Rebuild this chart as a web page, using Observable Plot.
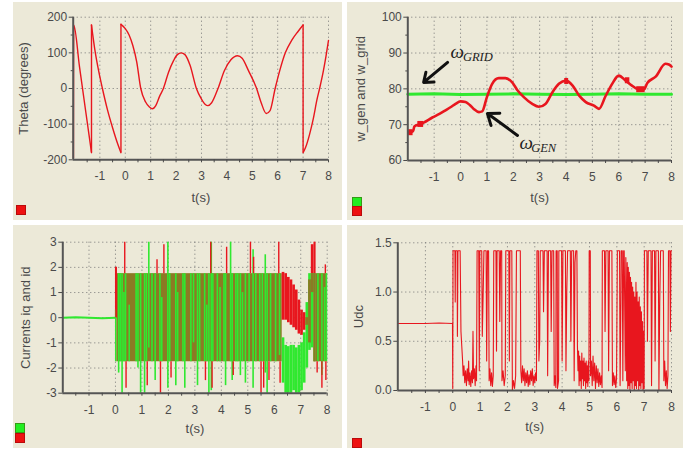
<!DOCTYPE html>
<html><head><meta charset="utf-8">
<script src="https://cdn.jsdelivr.net/npm/d3@7"></script>
<script src="https://cdn.jsdelivr.net/npm/@observablehq/plot@0.6"></script>
<style>
body{margin:0;background:#fff;}
#wrap{position:relative;width:691px;height:452px;background:#fff;overflow:hidden;font-family:"Liberation Sans",Arial,sans-serif;}
.panel{position:absolute;background:#ECE9D8;}
.panel svg{position:absolute;left:0;top:0;}
.sw{position:absolute;width:8px;height:8px;border:1px solid rgba(90,0,0,0.35);}
</style></head><body><div id="wrap"></div>
<script>
// ---------- shared axis values ----------
const xTickVals = [-1.5,-1,-0.5,0,0.5,1,1.5,2,2.5,3,3.5,4,4.5,5,5.5,6,6.5,7,7.5,8];
const xGridVals = [-1,0,1,2,3,4,5,6,7,8];

// ---------- panel 1: Theta ----------
const thetaT = [-2.04,-2.03,-1.8,-1.55,-1.33, -1.33,-1.2,-1.05,-0.9,-0.7,-0.5,-0.3,-0.17, -0.17,0,0.15,0.3,0.45,0.61,0.8,0.95,1.07,1.2,1.35,1.5,1.7,1.9,2.05,2.2,2.35,2.55,2.8,3.0,3.15,3.25,3.4,3.65,3.9,4.15,4.42,4.6,4.85,5.17,5.35,5.55,5.7,5.9,6.1,6.3,6.55,6.8,7.0, 7.0,7.1,7.25,7.4,7.55,7.65,7.8,7.9,8.0];
const thetaV = [-195,178,60,-68,-180, 178,110,50,0,-60,-110,-155,-180, 180,168,150,120,75,0,-38,-52,-57,-48,-22,0,45,78,95,100,95,65,0,-30,-45,-48,-40,0,50,80,92,85,50,0,-40,-70,-62,0,55,100,135,160,178, -180,-165,-130,-85,-30,0,50,90,135];

// ---------- panel 2: w_gen and w_grid ----------
const omegaT = [-1.97,-1.8,-1.75,-1.6,-1.42,-1.07,-0.8,-0.57,-0.35,-0.19,0,0.19,0.35,0.5,0.7,0.82,1.0,1.2,1.45,1.7,1.96,2.15,2.4,2.72,2.97,3.22,3.48,3.73,4.0,4.25,4.5,4.75,5.06,5.25,5.5,5.75,6.0,6.26,6.5,6.7,6.95,7.08,7.4,7.77,7.9,8.0];
const omegaV = [67.8,68.2,69.5,70.0,70.5,72,73,74,75,75.8,76.5,76.3,75.5,74.4,73.5,73.7,77.7,81.4,83,83,81.8,79.7,77.7,75.8,75,75.8,79,81.4,82.3,80.9,78.1,76.3,75.3,74.4,78,81.4,83.7,82.3,80.9,80,79.8,81.6,83.4,87,86.8,86.2];
const blockStart = [-1.97,-1.62,3.95,6.25,6.68];
const blockEnd   = [-1.8,-1.4,4.1,6.42,7.0];
const blockV     = [67.9,70.2,82.2,82.4,79.9];
const gridT = [-2,-1,0,1,2,3,4,5,6,7,8];
const gridV = [78.5,78.6,78.4,78.5,78.6,78.5,78.4,78.5,78.6,78.5,78.5];
const arrowFromT = [-0.49, 2.16], arrowFromV = [87.4, 67.0];
const arrowToT   = [-1.40, 1.02], arrowToV   = [81.8, 73.1];
const omegaLabelT = [-0.38, 2.235], omegaLabelV = [88.6, 63.3];
const subLabelT = [0.09, 2.68], subLabelV = [87.9, 62.3], subLabelText = ["GRID", "GEN"];

// ---------- panel 3: Currents iq and id ----------
const preT = [-1.99,-1.5,-1.0,-0.5,0.0];
const preV = [0.0,0.02,0.0,-0.02,0.0];
const bandStart = [0.05, 7.58], bandEnd = [6.3, 8.0], bandLo = [-1.75,-1.75], bandHi = [1.75,1.75];
const trStart = [0.0, 6.3, 6.4, 6.5, 6.6, 6.7, 6.8, 6.9, 7.0, 7.1, 7.2, 7.3, 7.4, 7.5];
const trEnd   = [0.05,6.4, 6.5, 6.6, 6.7, 6.8, 6.9, 7.0, 7.1, 7.2, 7.3, 7.4, 7.5, 7.58];
const trRedLo = [0.0,-0.1,-0.1,-0.2,-0.3,-0.4,-0.5,-0.65,-0.7,-0.5,-0.3,-1.0,1.0,-1.75];
const trRedHi = [2.0,1.8,1.75,1.6,1.5,1.3,1.1,0.7,0.3,0.2,0.0,1.5,2.9,3.0];
const trGrnLo = [-1.75,-2.6,-3,-3,-3,-2.9,-3,-3,-2.9,-2.6,-2.0,-1.3,-1.2,-1.75];
const trGrnHi = [0.3,-0.8,-1.1,-1.15,-1.1,-1.1,-1.2,-1.1,-1.0,-0.6,0.6,1.75,1.75,1.75];
const gsT  = [0.12,0.18,0.25,0.32,0.38,0.52,0.78,0.85,0.95,1.10,1.17,1.26,1.38,1.50,1.68,1.75,1.98,2.05,2.28,2.35,2.55,2.62,2.85,2.95,3.10,3.18,3.37,3.45,3.53,3.62,3.68,3.85,3.95,4.10,4.16,4.35,4.41,4.55,4.62,4.72,4.80,4.91,5.05,5.20,5.30,5.45,5.55,5.66,5.73,5.86,6.05,6.20,7.65,7.80,7.90,7.97];
const gsLo = [-2.2,-1.75,-3,-1.75,-1.75,-1.75,-1.75,-2.0,-3,-3,-1.75,-1.2,-1.75,-2.5,-1.75,-1.75,-2.8,-1.75,-2.7,-1.75,-1.75,-2.8,-1.75,-1.0,-2.7,-1.75,-1.75,-1.75,-3,-2.9,-1.75,-1.75,-1.75,-1.75,-2.7,-1.75,-2.5,-1.75,-1.75,-2.3,-1.75,-2.6,-1.75,-2.8,-1.75,-1.75,-1.75,-2.2,-3,-1.75,-1.75,-1.5,-1.75,-2.3,-1.75,-1.75];
const gsHi = [1.75,1.75,1.75,1.0,1.75,0.5,1.75,1.75,1.75,1.75,1.75,3,1.75,1.75,1.75,0.8,3,1.75,1.75,1.0,1.75,1.75,1.75,1.75,1.75,1.75,1.75,0.5,1.75,3,1.75,1.75,1.2,1.75,1.75,3,1.75,1.75,1.75,1.75,1.0,1.75,1.75,2.7,1.75,1.75,1.75,2.5,1.75,1.75,1.75,1.75,1.75,1.75,1.2,1.75];
const rsT  = [0.03,0.35,0.40,1.20,1.57,1.70,1.83,2.10,3.40,3.60,3.65,4.20,4.45,5.10,5.22,5.50,5.60,5.80,6.17,6.22,7.62,7.80,7.93,7.95];
const rsLo = [0.0,1.75,-2.8,-2.7,1.75,-3,1.75,-2.4,-2.5,1.75,-2.8,1.75,-2.3,1.75,1.75,-3,-2.8,-2.5,1.75,-2.6,-2.2,-2.8,1.75,-2.5];
const rsHi = [2.0,3,-1.75,-1.75,2.3,-1.75,2.9,-1.75,-1.75,3,-1.75,2.8,-1.75,3,2.4,-1.75,-1.75,-1.75,3,-1.75,-1.75,-1.75,2.1,-1.75];

// ---------- panel 4: Udc ----------
const udcT = [
 -2.01,-1.5,-1.0,-0.5,-0.01,0.0,0.01,
 0.08,0.09,0.10,0.16,0.17,0.19,0.27,0.30,0.33,0.36,0.38,
 0.41,0.44,0.47,0.50,0.53,0.56,0.58,0.60,0.63,0.66,0.69,0.72,0.74,0.76,0.79,0.82,0.85,0.87,
 0.89,0.95,0.97,0.99,1.06,1.08,1.12,1.14,1.22,1.24,1.27,1.31,
 1.33,1.36,1.39,1.42,1.45,1.48,
 1.50,1.58,1.60,1.62,1.70,1.72,1.75,1.79,
 1.80,1.84,1.88,1.92,1.94,2.05,2.07,2.09,2.16,2.18,2.22,2.26,2.30,2.33,2.47,2.49,
 2.52,2.55,2.58,2.61,2.64,2.67,2.70,2.73,2.76,2.79,2.82,2.85,2.88,2.91,2.94,2.97,3.00,3.03,3.06,
 3.08,3.13,3.15,3.18,3.20,3.30,3.32,3.35,3.45,3.47,3.50,3.58,3.60,3.63,3.69,
 3.71,3.74,3.77,3.78,3.82,3.83,3.87,3.88,3.92,
 3.98,4.00,4.03,4.12,4.14,4.17,4.20,4.30,4.32,4.35,4.42,4.44,4.47,4.50,4.54,
 4.56,4.58,4.60,4.62,4.64,4.66,4.68,4.70,4.72,4.74,4.76,4.78,4.80,4.82,4.84,4.86,4.88,4.90,4.92,4.94,4.96,
 4.98,4.99,5.03,5.04,5.07,5.10,5.13,5.16,5.19,5.22,5.25,5.28,5.31,5.34,5.37,5.40,5.43,5.46,
 5.47,5.55,5.57,5.60,5.68,5.70,5.73,5.82,
 5.84,5.87,5.90,5.93,5.96,5.99,
 6.02,6.10,6.12,6.15,6.16,6.20,6.22,6.25,6.27,6.31,6.33,6.36,
 6.38,6.40,6.42,6.44,6.46,6.48,6.50,6.52,6.54,6.56,6.58,6.60,6.62,6.64,6.66,6.68,6.70,6.72,6.74,6.76,6.78,6.80,6.82,6.84,6.86,6.88,6.90,6.92,6.94,6.96,6.98,
 7.00,7.01,7.10,7.12,7.15,7.25,7.27,7.30,7.38,7.40,7.43,7.52,7.54,7.57,7.60,7.70,7.72,
 7.75,7.78,7.81,7.84,7.87,7.89,7.94,7.96,7.98,8.00];
const udcV = [
 0.68,0.68,0.68,0.685,0.68,0.02,1.42,
 1.42,0.90,1.42,1.42,0.55,1.42,1.42,0.60,0.45,0.30,0.15,
 0.25,0.08,0.20,0.05,0.22,0.10,0.30,0.06,0.18,0.04,0.20,0.08,0.60,0.12,0.22,0.05,0.25,0.10,
 1.42,1.42,0.20,1.42,1.42,0.55,1.10,1.42,1.42,0.30,1.42,1.42,
 0.10,0.22,0.05,0.18,0.04,0.15,
 1.42,1.42,0.40,1.42,1.42,0.70,1.42,1.42,
 0.10,0.20,0.05,0.15,1.42,1.42,0.30,1.42,1.42,0.00,0.10,0.02,0.15,1.42,1.42,0.20,
 0.08,0.25,0.10,0.22,0.05,0.18,0.08,0.20,0.04,0.16,0.06,0.20,0.10,0.22,0.05,0.15,0.08,0.18,0.10,
 1.42,1.42,0.30,0.50,1.42,1.42,0.80,1.42,1.42,0.15,1.42,1.42,0.60,1.42,1.42,
 0.05,0.15,0.03,1.42,1.42,0.02,0.10,1.42,1.42,
 1.42,0.30,1.42,1.42,0.20,1.00,1.42,1.42,0.50,1.42,1.42,0.10,1.30,1.42,1.42,
 0.45,0.20,0.40,0.05,0.35,0.10,0.30,0.02,0.38,0.12,0.30,0.05,0.33,0.10,0.28,0.02,0.30,0.08,0.25,0.04,0.30,
 0.10,1.42,1.42,0.15,0.30,0.05,0.35,0.10,0.28,0.02,0.25,0.08,0.22,0.04,0.18,0.06,0.15,0.03,
 1.42,1.42,0.60,1.42,1.42,0.20,1.42,1.42,
 0.05,0.18,0.06,0.15,0.03,0.12,
 1.42,1.42,0.05,0.90,1.42,1.42,0.10,1.42,1.42,0.20,1.35,0.10,
 1.30,0.02,1.25,0.05,1.20,0.00,1.15,0.08,1.10,0.02,1.05,0.10,1.00,0.00,0.95,0.05,1.10,0.02,1.00,0.10,0.90,0.00,0.95,0.05,0.85,0.02,0.80,0.08,0.70,0.00,0.60,
 0.02,1.42,1.42,0.50,1.42,1.42,0.05,1.42,1.42,0.30,1.42,1.42,0.00,0.90,1.42,1.42,0.10,
 0.30,0.05,0.20,0.02,0.15,1.42,1.42,0.60,1.42,1.42];

// ---------- styles ----------
const RED = "#E8161E", GREEN = "#30E830", OLIVE = "#8C7A24", INK = "#4a4a4a", GRIDC = "#767676", AXIS = "#555";

const zip = (xs, ys) => xs.map((x, i) => ({t: x, v: ys[i]}));

function makePanel(cfg) {
  const div = document.createElement("div");
  div.className = "panel";
  Object.assign(div.style, {left: cfg.left + "px", top: cfg.top + "px", width: cfg.w + "px", height: cfg.h + "px"});
  const chart = Plot.plot({
    width: cfg.w, height: cfg.h,
    marginLeft: cfg.ml, marginRight: cfg.mr, marginTop: cfg.mt, marginBottom: cfg.mb,
    x: {domain: cfg.xd}, y: {domain: cfg.yd},
    style: {background: "transparent", fontFamily: "'Liberation Sans', Arial, sans-serif", fontSize: "12px", color: INK, overflow: "visible"},
    marks: [
      Plot.gridX(xGridVals, {stroke: GRIDC, strokeOpacity: 1, strokeDasharray: "1,3"}),
      Plot.gridY(cfg.yGrid, {stroke: GRIDC, strokeOpacity: 1, strokeDasharray: "1,3"}),
      ...cfg.marks,
      Plot.ruleX([cfg.xd[0]], {stroke: AXIS, strokeWidth: 2}),
      Plot.ruleY([cfg.yd[0]], {stroke: AXIS, strokeWidth: 2}),
      Plot.axisX(xTickVals, {tickSize: 3, tickPadding: 9, tickFormat: d => Number.isInteger(d) ? String(d) : "", label: null, fontSize: 12}),
      Plot.axisY(cfg.yTicks, {tickSize: 4, tickPadding: 2, tickFormat: cfg.yFmt, label: null, fontSize: 12}),
      Plot.axisY(cfg.yMinor, {tickSize: 2, tickFormat: () => "", label: null}),
      Plot.text([cfg.yLabel], {text: d => d, frameAnchor: "left", textAnchor: "middle", lineAnchor: "middle", dx: cfg.ylx, rotate: -90, fontSize: 13, fill: INK}),
      Plot.text(["t(s)"], {text: d => d, frameAnchor: "bottom", dy: cfg.xly, lineAnchor: "middle", fontSize: 13, fill: INK})
    ]
  });
  div.appendChild(chart);
  cfg.legend.forEach(([x, y, c]) => {
    const s = document.createElement("div");
    s.className = "sw";
    Object.assign(s.style, {left: x + "px", top: y + "px", background: c});
    div.appendChild(s);
  });
  document.getElementById("wrap").appendChild(div);
}

// Panel 1
const thetaRows = [];
let seg = 0;
thetaT.forEach((t, i) => { if (i > 0 && t === thetaT[i - 1]) seg++; thetaRows.push({t, v: thetaV[i], seg}); });
const jumps = [];
thetaT.forEach((t, i) => { if (i > 0 && t === thetaT[i - 1]) jumps.push({t, a: thetaV[i - 1], b: thetaV[i]}); });

makePanel({
  left: 13, top: 2, w: 329, h: 218, ml: 59.7, mr: 14, mt: 14.7, mb: 60.7,
  xd: [-2.05, 8], yd: [-200, 200],
  yTicks: [-200,-100,0,100,200], yGrid: [-100,0,100,200], yMinor: [-150,-50,50,150],
  yFmt: d => String(d), yLabel: "Theta (degrees)", ylx: -49.7, xly: 37.7,
  legend: [[3, 203, "#EE1111"]],
  marks: [
    Plot.line(thetaRows, {x: "t", y: "v", z: "seg", curve: "monotone-x", stroke: RED, strokeWidth: 1.4}),
    Plot.ruleX(jumps, {x: "t", y1: "a", y2: "b", stroke: RED, strokeWidth: 1.4})
  ]
});

// Panel 2
const blocks = blockStart.map((s, i) => ({s, e: blockEnd[i], v: blockV[i]}));
const arrows = arrowFromT.map((t, i) => ({x1: t, y1: arrowFromV[i], x2: arrowToT[i], y2: arrowToV[i]}));
const omegaLabels = omegaLabelT.map((t, i) => ({t, v: omegaLabelV[i]}));
const subLabels = subLabelT.map((t, i) => ({t, v: subLabelV[i], s: subLabelText[i]}));
makePanel({
  left: 347, top: 2, w: 336, h: 218, ml: 60.3, mr: 12, mt: 14.7, mb: 60,
  xd: [-2.0, 8], yd: [60, 100],
  yTicks: [60,70,80,90,100], yGrid: [70,80,90,100], yMinor: [65,75,85,95],
  yFmt: d => String(d), yLabel: "w_gen and w_grid", ylx: -47.3, xly: 37,
  legend: [[5, 195, "#22EE22"], [5, 204, "#EE1111"]],
  marks: [
    Plot.line(zip(gridT, gridV), {x: "t", y: "v", stroke: GREEN, strokeWidth: 3}),
    Plot.line(zip(omegaT, omegaV), {x: "t", y: "v", curve: "monotone-x", stroke: RED, strokeWidth: 2.6}),
    Plot.ruleY(blocks, {x1: "s", x2: "e", y: "v", stroke: RED, strokeWidth: 6}),
    Plot.arrow(arrows, {x1: "x1", y1: "y1", x2: "x2", y2: "y2", stroke: "#111", strokeWidth: 3, headLength: 11, headAngle: 75}),
    Plot.text(omegaLabels, {x: "t", y: "v", text: () => "ω", textAnchor: "start", lineAnchor: "bottom", fontFamily: "'Liberation Serif', 'DejaVu Serif', serif", fontStyle: "italic", fontSize: 19, fill: "#222"}),
    Plot.text(subLabels, {x: "t", y: "v", text: "s", textAnchor: "start", lineAnchor: "bottom", fontFamily: "'Liberation Serif', 'DejaVu Serif', serif", fontStyle: "italic", fontSize: 12.5, fill: "#222", style: {letterSpacing: "1.5px"}})
  ]
});

// Panel 3
const bandRows = bandStart.map((s, i) => ({s, e: bandEnd[i], lo: bandLo[i], hi: bandHi[i]}));
const trRows = trStart.map((s, i) => ({s, e: trEnd[i], rl: trRedLo[i], rh: trRedHi[i], gl: trGrnLo[i], gh: trGrnHi[i]}));
const ovRows = trRows.map(r => ({s: r.s, e: r.e, lo: Math.max(r.rl, r.gl), hi: Math.min(r.rh, r.gh)})).filter(r => r.lo < r.hi);
const gsRows = gsT.map((t, i) => ({t, lo: gsLo[i], hi: gsHi[i]}));
const rsRows = rsT.map((t, i) => ({t, lo: rsLo[i], hi: rsHi[i]}));
makePanel({
  left: 13, top: 225, w: 329, h: 223, ml: 49.3, mr: 15.3, mt: 16.7, mb: 55.3,
  xd: [-1.99, 8], yd: [-3, 3],
  yTicks: [-3,-2,-1,0,1,2,3], yGrid: [-2,-1,0,1,2,3], yMinor: [],
  yFmt: d => String(d), yLabel: "Currents iq and id", ylx: -37.3, xly: 35.3,
  legend: [[2, 198, "#22EE22"], [2, 208, "#EE1111"]],
  marks: [
    Plot.line(zip(preT, preV), {x: "t", y: "v", stroke: GREEN, strokeWidth: 2}),
    Plot.rect(bandRows, {x1: "s", x2: "e", y1: "lo", y2: "hi", fill: OLIVE}),
    Plot.rect(trRows, {x1: "s", x2: "e", y1: "rl", y2: "rh", fill: RED}),
    Plot.rect(trRows, {x1: "s", x2: "e", y1: "gl", y2: "gh", fill: GREEN}),
    Plot.rect(ovRows, {x1: "s", x2: "e", y1: "lo", y2: "hi", fill: OLIVE}),
    Plot.ruleX(gsRows, {x: "t", y1: "lo", y2: "hi", stroke: GREEN, strokeWidth: 1.6}),
    Plot.ruleX(rsRows, {x: "t", y1: "lo", y2: "hi", stroke: RED, strokeWidth: 1.4})
  ]
});

// Panel 4
makePanel({
  left: 347, top: 225, w: 336, h: 223, ml: 50.3, mr: 12, mt: 17.3, mb: 58,
  xd: [-2.01, 8], yd: [0, 1.5],
  yTicks: [0,0.5,1,1.5], yGrid: [0.5,1,1.5], yMinor: [],
  yFmt: d3.format(".1f"), yLabel: "Udc", ylx: -39.3, xly: 36.7,
  legend: [[5, 213, "#EE1111"]],
  marks: [
    Plot.line(zip(udcT, udcV), {x: "t", y: "v", stroke: RED, strokeWidth: 1.1})
  ]
});
</script></body></html>
